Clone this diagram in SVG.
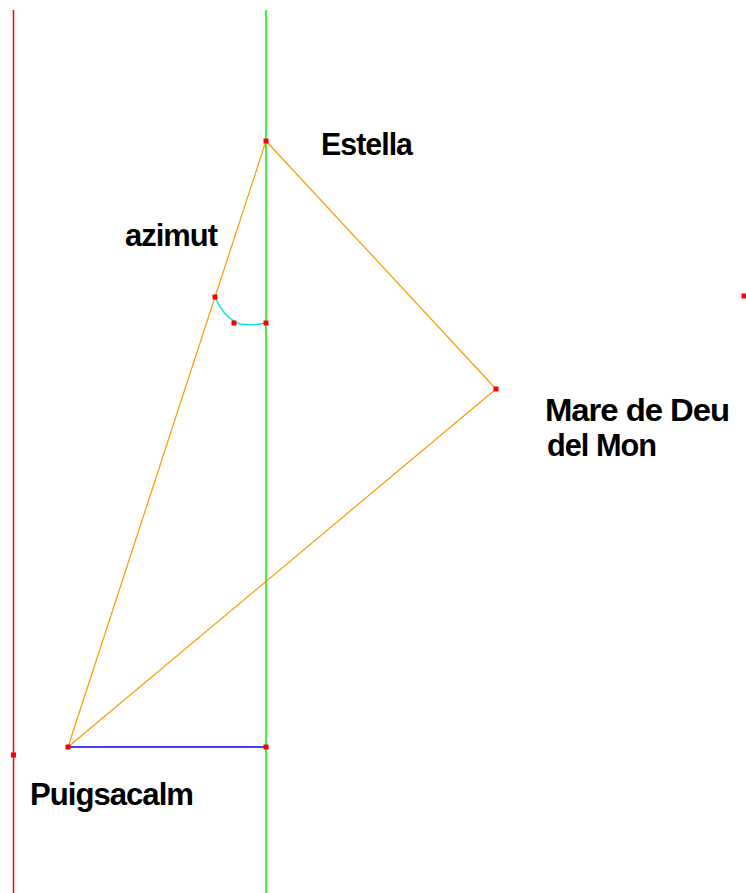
<svg xmlns="http://www.w3.org/2000/svg" width="746" height="893" viewBox="0 0 746 893">
<style>
.lbl{font-family:"Liberation Sans",Arial,sans-serif;font-weight:bold;font-size:31px;fill:#000;letter-spacing:-1px}
.pt{fill:#ff0000}
.tri{stroke:#ff9900;stroke-width:1.2;fill:none}
</style>
<rect width="746" height="893" fill="#fff"/>
<g id="connectors">
<line x1="13.5" y1="10" x2="13.5" y2="893" stroke="#ff0000" stroke-width="1.5"/>
<line x1="266" y1="10" x2="266" y2="893" stroke="#00ee00" stroke-width="1.5"/>
<line class="tri" x1="266" y1="141" x2="68" y2="747"/>
<line class="tri" x1="266" y1="141" x2="496" y2="389"/>
<line class="tri" x1="496" y1="389" x2="68" y2="747"/>
<line x1="68" y1="747" x2="266" y2="747" stroke="#0000ff" stroke-width="1.5"/>
<path d="M215,297 Q224,318 240,324 Q252,326 266,323" stroke="#00e5ee" stroke-width="1.5" fill="none"/>
</g>
<g id="estella">
<rect class="pt" x="263.5" y="138.5" width="5" height="5"/>
<text class="lbl" x="321" y="155" textLength="91" lengthAdjust="spacingAndGlyphs">Estella</text>
</g>
<g id="mare-de-deu">
<rect class="pt" x="493.5" y="386.5" width="5" height="5"/>
<text class="lbl" x="545" y="421" textLength="184" lengthAdjust="spacingAndGlyphs">Mare de Deu</text>
<text class="lbl" x="547" y="456" textLength="109" lengthAdjust="spacingAndGlyphs">del Mon</text>
</g>
<g id="puigsacalm">
<rect class="pt" x="65.5" y="744.5" width="5" height="5"/>
<text class="lbl" x="30" y="805" textLength="163" lengthAdjust="spacingAndGlyphs">Puigsacalm</text>
</g>
<g id="azimut">
<rect class="pt" x="212.5" y="294.5" width="5" height="5"/>
<rect class="pt" x="231.5" y="320.5" width="5" height="5"/>
<rect class="pt" x="263.5" y="320.5" width="5" height="5"/>
<text class="lbl" x="125" y="246" textLength="92" lengthAdjust="spacingAndGlyphs">azimut</text>
</g>
<g id="points">
<rect class="pt" x="263.5" y="744.5" width="5" height="5"/>
<rect class="pt" x="11" y="752.5" width="5" height="5"/>
<rect class="pt" x="741.5" y="293.5" width="5" height="5"/>
</g>
</svg>
